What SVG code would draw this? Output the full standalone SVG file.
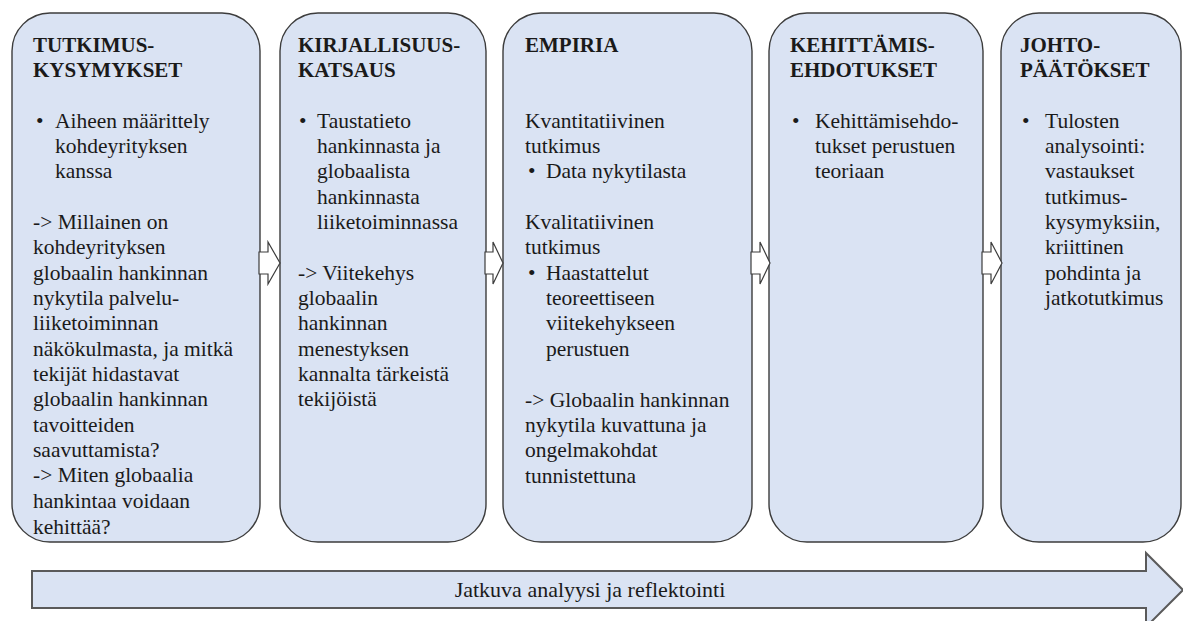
<svg xmlns="http://www.w3.org/2000/svg" width="1183" height="621" viewBox="0 0 1183 621">
  <style>
    .box { fill: #dae3f3; stroke: #3c3c3c; stroke-width: 1.4; }
    .step { fill: #ffffff; stroke: #3c3c3c; stroke-width: 1.2; stroke-linejoin: miter; }
    .band { fill: #dae3f3; stroke: #5a5a5a; stroke-width: 2; }
    text { font-family: "Liberation Serif", "Times New Roman", serif; font-size: 21.5px; fill: #1a1a1a; }
    .h { font-weight: bold; font-size: 21px; }
    .band-label { font-size: 22px; text-anchor: middle; }
  </style>

  <!-- Phase 1 -->
  <g id="tutkimuskysymykset">
    <rect class="box" x="12" y="13" width="248" height="529" rx="38" ry="38"/>
    <text class="h" x="33" y="52">TUTKIMUS-</text>
    <text class="h" x="33" y="77">KYSYMYKSET</text>
    <text x="36" y="128">•</text>
    <text x="55" y="128">Aiheen määrittely</text>
    <text x="55" y="153">kohdeyrityksen</text>
    <text x="55" y="178">kanssa</text>
    <text x="33" y="229">-&gt; Millainen on</text>
    <text x="33" y="254">kohdeyrityksen</text>
    <text x="33" y="280">globaalin hankinnan</text>
    <text x="33" y="305">nykytila palvelu-</text>
    <text x="33" y="330">liiketoiminnan</text>
    <text x="33" y="356">näkökulmasta, ja mitkä</text>
    <text x="33" y="381">tekijät hidastavat</text>
    <text x="33" y="406">globaalin hankinnan</text>
    <text x="33" y="432">tavoitteiden</text>
    <text x="33" y="457">saavuttamista?</text>
    <text x="33" y="482">-&gt; Miten globaalia</text>
    <text x="33" y="508">hankintaa voidaan</text>
    <text x="33" y="534">kehittää?</text>
  </g>

  <!-- Phase 2 -->
  <g id="kirjallisuuskatsaus">
    <rect class="box" x="280" y="13" width="206" height="529" rx="38" ry="38"/>
    <text class="h" x="298" y="52">KIRJALLISUUS-</text>
    <text class="h" x="298" y="77">KATSAUS</text>
    <text x="299" y="128">•</text>
    <text x="317" y="128">Taustatieto</text>
    <text x="317" y="153">hankinnasta ja</text>
    <text x="317" y="178">globaalista</text>
    <text x="317" y="204">hankinnasta</text>
    <text x="317" y="229">liiketoiminnassa</text>
    <text x="298" y="280">-&gt; Viitekehys</text>
    <text x="298" y="305">globaalin</text>
    <text x="298" y="330">hankinnan</text>
    <text x="298" y="356">menestyksen</text>
    <text x="298" y="381">kannalta tärkeistä</text>
    <text x="298" y="406">tekijöistä</text>
  </g>

  <!-- Phase 3 -->
  <g id="empiria">
    <rect class="box" x="503" y="13" width="249" height="529" rx="38" ry="38"/>
    <text class="h" x="525" y="52">EMPIRIA</text>
    <text x="525" y="128">Kvantitatiivinen</text>
    <text x="525" y="153">tutkimus</text>
    <text x="528" y="178">•</text>
    <text x="546" y="178">Data nykytilasta</text>
    <text x="525" y="229">Kvalitatiivinen</text>
    <text x="525" y="254">tutkimus</text>
    <text x="528" y="280">•</text>
    <text x="546" y="280">Haastattelut</text>
    <text x="546" y="305">teoreettiseen</text>
    <text x="546" y="330">viitekehykseen</text>
    <text x="546" y="356">perustuen</text>
    <text x="525" y="407">-&gt; Globaalin hankinnan</text>
    <text x="525" y="432">nykytila kuvattuna ja</text>
    <text x="525" y="457">ongelmakohdat</text>
    <text x="525" y="483">tunnistettuna</text>
  </g>

  <!-- Phase 4 -->
  <g id="kehittamisehdotukset">
    <rect class="box" x="769" y="13" width="214" height="529" rx="38" ry="38"/>
    <text class="h" x="790" y="52">KEHITTÄMIS-</text>
    <text class="h" x="790" y="77">EHDOTUKSET</text>
    <text x="792" y="128">•</text>
    <text x="815" y="128">Kehittämisehdo-</text>
    <text x="815" y="153">tukset perustuen</text>
    <text x="815" y="178">teoriaan</text>
  </g>

  <!-- Phase 5 -->
  <g id="johtopaatokset">
    <rect class="box" x="1001" y="13" width="180" height="529" rx="38" ry="38"/>
    <text class="h" x="1020" y="52">JOHTO-</text>
    <text class="h" x="1020" y="77">PÄÄTÖKSET</text>
    <text x="1022" y="128">•</text>
    <text x="1045" y="128">Tulosten</text>
    <text x="1045" y="153">analysointi:</text>
    <text x="1045" y="178">vastaukset</text>
    <text x="1045" y="204">tutkimus-</text>
    <text x="1045" y="229">kysymyksiin,</text>
    <text x="1045" y="254">kriittinen</text>
    <text x="1045" y="280">pohdinta ja</text>
    <text x="1045" y="305">jatkotutkimus</text>
  </g>

  <!-- Step arrows between phases -->
  <g id="connectors">
    <polygon class="step" points="259,252 268,252 268,242 280,263 268,284 268,274 259,274"/>
    <polygon class="step" points="485,252 493,252 493,242 503,263 493,284 493,274 485,274"/>
    <polygon class="step" points="751,252 760,252 760,242 770,263 760,284 760,274 751,274"/>
    <polygon class="step" points="982,252 991,252 991,242 1002,263 991,284 991,274 982,274"/>
  </g>

  <!-- Continuous process band -->
  <g id="jatkuva-analyysi">
    <polygon class="band" points="32,571 1146,571 1146,553 1183,590 1146,627 1146,608 32,608"/>
    <text class="band-label" x="590" y="597">Jatkuva analyysi ja reflektointi</text>
  </g>
</svg>
